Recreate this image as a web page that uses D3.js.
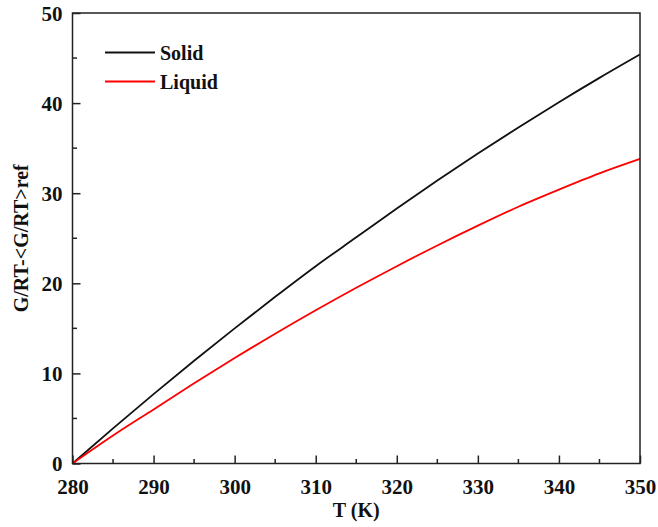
<!DOCTYPE html>
<html>
<head>
<meta charset="utf-8">
<script src="https://cdn.jsdelivr.net/npm/d3@7"></script>
<style>
  html, body { margin: 0; padding: 0; background: #fff; }
  svg { display: block; }
  text { font-family: "Liberation Serif", "Times New Roman", serif; font-weight: bold; fill: #111; }
</style>
</head>
<body>
<svg id="chart" width="658" height="527"></svg>
<script>
// Temperatures (K) and free-energy differences for each phase
const temperature = [280, 285, 290, 295, 300, 305, 310, 315, 320, 325, 330, 335, 340, 345, 350];
const solidValues = [0, 3.9, 7.7, 11.4, 15.0, 18.5, 21.9, 25.1, 28.3, 31.4, 34.4, 37.3, 40.1, 42.8, 45.4];
const liquidValues = [0, 3.1, 6.0, 8.9, 11.7, 14.4, 17.0, 19.5, 21.9, 24.2, 26.4, 28.5, 30.4, 32.2, 33.8];

const seriesNames = ["Solid", "Liquid"];
const seriesColors = ["#111111", "#ff0000"];

const xTickValues = [280, 290, 300, 310, 320, 330, 340, 350];
const yTickValues = [0, 10, 20, 30, 40, 50];
const xTitle = "T (K)";
const yTitle = "G/RT-<G/RT>ref";

const svg = d3.select("#chart");
const plotLeft = 72.5, plotRight = 640, plotTop = 13, plotBottom = 463.5;

const x = d3.scaleLinear().domain([280, 350]).range([plotLeft, plotRight]);
const y = d3.scaleLinear().domain([0, 50]).range([plotBottom, plotTop]);

// Series lines
const series = [solidValues, liquidValues];
const line = d3.line()
  .x((d, i) => x(temperature[i]))
  .y(d => y(d))
  .curve(d3.curveMonotoneX);

series.forEach((vals, k) => {
  svg.append("path")
    .datum(vals)
    .attr("d", line)
    .attr("fill", "none")
    .attr("stroke", seriesColors[k])
    .attr("stroke-width", 1.8);
});

// Frame
svg.append("rect")
  .attr("x", plotLeft).attr("y", plotTop)
  .attr("width", plotRight - plotLeft).attr("height", plotBottom - plotTop)
  .attr("fill", "none").attr("stroke", "#222").attr("stroke-width", 1.5);

// Bottom axis: inward major and minor ticks
const xAxis = d3.axisBottom(x).tickValues(xTickValues).tickSizeInner(-8).tickSizeOuter(0).tickPadding(16).tickFormat(d3.format("d"));
const gx = svg.append("g").attr("transform", `translate(0,${plotBottom})`).call(xAxis);
const xMinor = d3.range(285, 350, 10);
gx.selectAll(".minor").data(xMinor).enter().append("line")
  .attr("x1", d => x(d)).attr("x2", d => x(d)).attr("y1", 0).attr("y2", -4.5)
  .attr("stroke", "#222").attr("stroke-width", 1.5);

// Left axis
const yAxis = d3.axisLeft(y).tickValues(yTickValues).tickSizeInner(-8).tickSizeOuter(0).tickPadding(10).tickFormat(d3.format("d"));
const gy = svg.append("g").attr("transform", `translate(${plotLeft},0)`).call(yAxis);
const yMinor = d3.range(5, 50, 10);
gy.selectAll(".minor").data(yMinor).enter().append("line")
  .attr("y1", d => y(d)).attr("y2", d => y(d)).attr("x1", 0).attr("x2", 4.5)
  .attr("stroke", "#222").attr("stroke-width", 1.5);

[gx, gy].forEach(g => {
  g.select(".domain").remove();
  g.selectAll(".tick line").attr("stroke", "#222").attr("stroke-width", 1.5);
  g.selectAll(".tick text").style("font-family", "Liberation Serif, serif")
    .style("font-weight", "bold").style("font-size", "21px").attr("fill", "#111");
});
gy.selectAll(".tick text").attr("dy", "0.34em");

// Axis titles
svg.append("text")
  .attr("x", (plotLeft + plotRight) / 2).attr("y", 517)
  .attr("text-anchor", "middle").style("font-size", "20px")
  .text(xTitle);

svg.append("text")
  .attr("transform", `translate(28,${(plotTop + plotBottom) / 2}) rotate(-90)`)
  .attr("text-anchor", "middle").style("font-size", "20px")
  .text(yTitle);

// Legend
const legend = svg.append("g");
seriesNames.forEach((name, k) => {
  const ly = 52.5 + k * 29;
  legend.append("line")
    .attr("x1", 105).attr("x2", 155).attr("y1", ly).attr("y2", ly)
    .attr("stroke", seriesColors[k]).attr("stroke-width", 1.8);
  legend.append("text")
    .attr("x", 160).attr("y", ly).attr("dy", "0.35em")
    .style("font-size", "20px")
    .text(name);
});
</script>
</body>
</html>
